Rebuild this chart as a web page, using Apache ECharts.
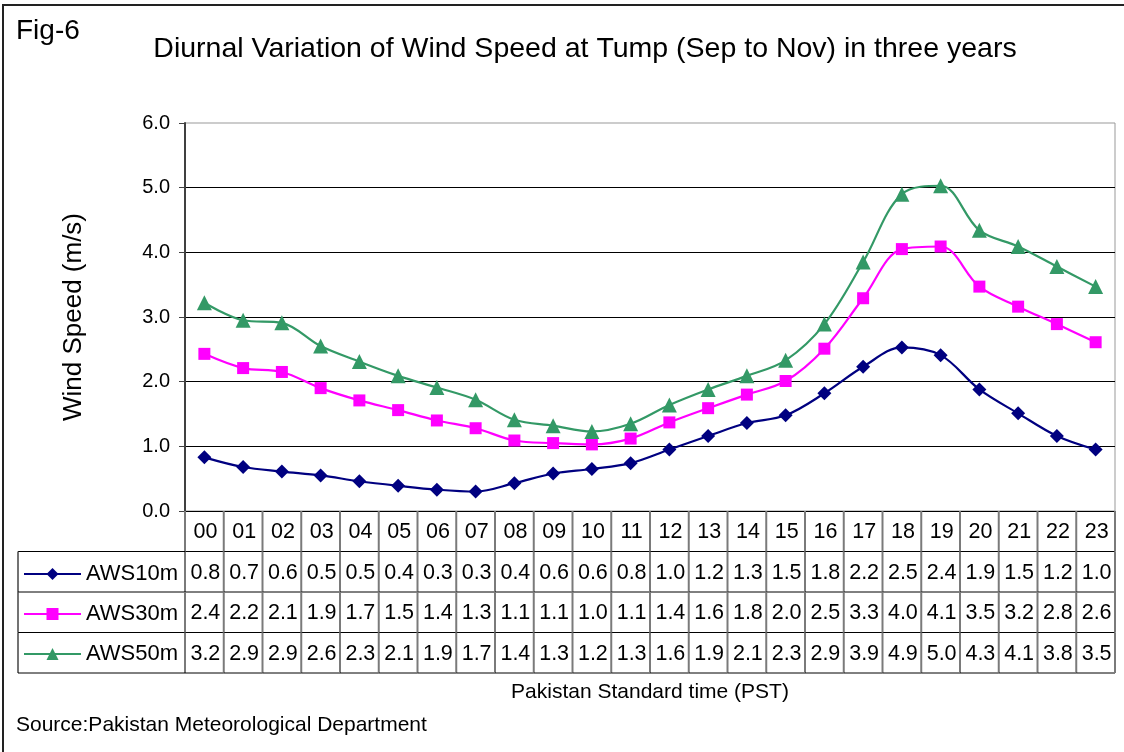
<!DOCTYPE html>
<html>
<head>
<meta charset="utf-8">
<script src="https://cdn.jsdelivr.net/npm/echarts@6/dist/echarts.min.js"></script>
<style>html,body{margin:0;padding:0;background:#fff;}#c{width:1124px;height:752px;}</style>
</head>
<body>
<div id="c"></div>
<script>
// ---- data ----
const hours = ['00','01','02','03','04','05','06','07','08','09','10','11','12','13','14','15','16','17','18','19','20','21','22','23'];
const seriesNames = ['AWS10m','AWS30m','AWS50m'];
const aws10 = [0.83,0.68,0.61,0.55,0.46,0.39,0.33,0.30,0.43,0.58,0.65,0.74,0.95,1.16,1.36,1.48,1.82,2.23,2.53,2.41,1.88,1.51,1.16,0.95];
const aws30 = [2.43,2.21,2.15,1.90,1.71,1.56,1.40,1.28,1.09,1.05,1.03,1.12,1.37,1.59,1.80,2.01,2.51,3.29,4.05,4.09,3.47,3.16,2.89,2.61];
const aws50 = [3.22,2.95,2.91,2.55,2.31,2.09,1.91,1.72,1.41,1.32,1.23,1.35,1.64,1.88,2.09,2.33,2.89,3.85,4.90,5.03,4.34,4.09,3.78,3.47];
const tbl10 = ['0.8','0.7','0.6','0.5','0.5','0.4','0.3','0.3','0.4','0.6','0.6','0.8','1.0','1.2','1.3','1.5','1.8','2.2','2.5','2.4','1.9','1.5','1.2','1.0'];
const tbl30 = ['2.4','2.2','2.1','1.9','1.7','1.5','1.4','1.3','1.1','1.1','1.0','1.1','1.4','1.6','1.8','2.0','2.5','3.3','4.0','4.1','3.5','3.2','2.8','2.6'];
const tbl50 = ['3.2','2.9','2.9','2.6','2.3','2.1','1.9','1.7','1.4','1.3','1.2','1.3','1.6','1.9','2.1','2.3','2.9','3.9','4.9','5.0','4.3','4.1','3.8','3.5'];
const yTicks = [0,1,2,3,4,5,6];

const FONT = 'Liberation Sans, Arial, sans-serif';
const colors = ['#000080','#FF00FF','#339966'];

// table cells built from the arrays
const tableRows = [hours, tbl10, tbl30, tbl50];
const cellData = [];
const cellText = [];
tableRows.forEach((row, r) => row.forEach((t, c) => { cellData.push([c, r]); cellText.push(t); }));

const chart = echarts.init(document.getElementById('c'), null, {renderer: 'canvas'});
const option = {
  backgroundColor: '#fff',
  animation: false,
  title: [
    {text: 'Diurnal Variation of Wind Speed at Tump (Sep to Nov) in three years', left: 580, top: 30, textAlign: 'center',
     textStyle: {fontFamily: FONT, fontSize: 28.5, fontWeight: 'normal', color: '#000'}},
    {text: 'Fig-6', left: 11, top: 12, textStyle: {fontFamily: FONT, fontSize: 28, fontWeight: 'normal', color: '#000'}},
    {text: 'Source:Pakistan Meteorological Department', left: 11, top: 710, textStyle: {fontFamily: FONT, fontSize: 21, fontWeight: 'normal', color: '#000'}}
  ],
  graphic: [
    {type: 'rect', shape: {x: 3, y: 5, width: 1140, height: 770}, style: {fill: 'none', stroke: '#222', lineWidth: 2}, silent: true, z: 100}
  ],
  legend: {
    data: seriesNames, orient: 'vertical', left: 23, top: 562, padding: 0,
    itemWidth: 57, itemHeight: 15, itemGap: 16,
    textStyle: {fontFamily: FONT, fontSize: 22, lineHeight: 24, color: '#000'}
  },
  grid: [
    {left: 185, top: 123, width: 930, height: 388, show: true, borderColor: '#999', borderWidth: 1, containLabel: false},
    {left: 185, top: 511, width: 930, height: 162, containLabel: false}
  ],
  xAxis: [
    {type: 'category', gridIndex: 0, data: hours, boundaryGap: true,
     axisLine: {show: true, onZero: false, lineStyle: {color: '#000', width: 1}},
     axisTick: {show: false}, axisLabel: {show: false}, splitLine: {show: false}},
    {type: 'category', gridIndex: 1, data: hours, boundaryGap: true, position: 'bottom',
     axisLine: {show: false}, axisTick: {show: false}, axisLabel: {show: false}, splitLine: {show: false},
     name: 'Pakistan Standard time (PST)', nameLocation: 'middle', nameGap: 9,
     nameTextStyle: {fontFamily: FONT, fontSize: 21, color: '#000', verticalAlign: 'top'}}
  ],
  yAxis: [
    {type: 'value', gridIndex: 0, min: 0, max: 6, interval: 1,
     axisLine: {show: true, lineStyle: {color: '#404040', width: 2}},
     axisTick: {show: true, length: 6, lineStyle: {color: '#404040', width: 1}},
     axisLabel: {margin: 15, fontFamily: FONT, fontSize: 20, color: '#000', formatter: v => v.toFixed(1)},
     splitLine: {show: true, showMaxLine: false, showMinLine: false, lineStyle: {color: '#000', width: 1}},
     name: 'Wind Speed (m/s)', nameLocation: 'middle', nameRotate: 90, nameGap: 98,
     nameTextStyle: {fontFamily: FONT, fontSize: 26, color: '#000'}},
    {type: 'category', gridIndex: 1, data: ['hour'].concat(seriesNames), inverse: true,
     axisLine: {show: false}, axisTick: {show: false}, axisLabel: {show: false}, splitLine: {show: false}}
  ],
  series: [
    {name: 'AWS10m', type: 'line', xAxisIndex: 0, yAxisIndex: 0, data: aws10, smooth: 0.35,
     symbol: 'diamond', symbolSize: 14, color: colors[0], lineStyle: {width: 2.2, color: colors[0]}, itemStyle: {color: colors[0]}},
    {name: 'AWS30m', type: 'line', xAxisIndex: 0, yAxisIndex: 0, data: aws30, smooth: 0.35,
     symbol: 'rect', symbolSize: 12, color: colors[1], lineStyle: {width: 2.2, color: colors[1]}, itemStyle: {color: colors[1]}},
    {name: 'AWS50m', type: 'line', xAxisIndex: 0, yAxisIndex: 0, data: aws50, smooth: 0.35,
     symbol: 'triangle', symbolSize: 15, color: colors[2], lineStyle: {width: 2.2, color: colors[2]}, itemStyle: {color: colors[2]}},
    {type: 'custom', xAxisIndex: 1, yAxisIndex: 1, data: cellData, silent: true, clip: false, z: 5,
     renderItem: function (params, api) {
       const c = api.value(0), r = api.value(1);
       const p = api.coord([c, r]);
       const s = api.size([1, 1]);
       const x0 = p[0] - s[0] / 2, y0 = p[1] - s[1] / 2, x1 = x0 + s[0], y1 = y0 + s[1];
       const children = [
         {type: 'line', shape: {x1: x0, y1: y0, x2: x0, y2: y1}, style: {stroke: '#7a7a7a', lineWidth: 2}},
         {type: 'line', shape: {x1: x0, y1: y1, x2: x1, y2: y1}, style: {stroke: '#000', lineWidth: 1}},
         {type: 'text', style: {text: cellText[params.dataIndex], x: p[0] + 1, y: p[1] + 1, align: 'center', verticalAlign: 'middle',
           fontFamily: FONT, fontSize: 21.5, fill: '#000'}}
       ];
       if (c === hours.length - 1) {
         children.push({type: 'line', shape: {x1: x1, y1: y0, x2: x1, y2: y1}, style: {stroke: '#7a7a7a', lineWidth: 2}});
       }
       if (c === 0 && r >= 1) {
         const hx = 18;
         if (r === 1) children.push({type: 'line', shape: {x1: hx, y1: y0, x2: x0, y2: y0}, style: {stroke: '#000', lineWidth: 1}});
         children.push({type: 'line', shape: {x1: hx, y1: y0, x2: hx, y2: y1}, style: {stroke: '#444', lineWidth: 1.5}});
         children.push({type: 'line', shape: {x1: hx, y1: y1, x2: x0, y2: y1}, style: {stroke: '#000', lineWidth: 1}});
       }
       return {type: 'group', children: children};
     }}
  ]
};
chart.setOption(option);
</script>
</body>
</html>
